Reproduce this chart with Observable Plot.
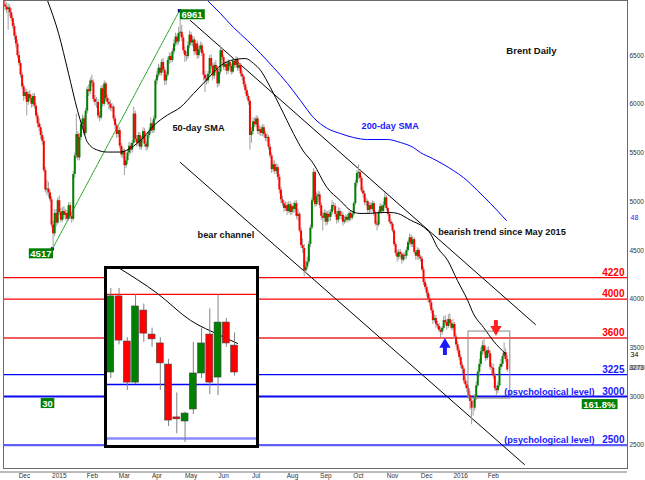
<!DOCTYPE html>
<html><head><meta charset="utf-8">
<script src="https://cdn.jsdelivr.net/npm/d3@7"></script>
<script src="https://cdn.jsdelivr.net/npm/@observablehq/plot@0.6"></script>
<style>
body{margin:0;background:#fff;}
#wrap{position:relative;width:645px;height:480px;overflow:hidden;}
#inset{position:absolute;left:104px;top:266px;width:149px;height:176px;border:3px solid #000;background:#fff;}
#inset svg,#wrap svg{display:block;}
</style></head><body><div id="wrap"></div>
<script>
// ---------------- data (prices x100, one bar per trading day) ----------------
const opens = [
7060,7020,7000,6970,6990,6940,6880,6800,6700,6620,
6500,6420,6300,6180,6080,6120,6020,6100,6060,6000,
6080,5980,5880,5800,5760,5680,5620,5320,5120,5130,
5090,5020,4760,4670,4880,4780,5010,4890,4810,4900,
4860,4880,4820,4960,4850,4820,5280,5470,5690,5450,
5660,5790,5850,5700,5930,6150,6130,6240,6220,6050,
6020,6020,5880,5860,6160,6000,6210,6060,6020,6000,
5960,5970,5850,5780,5690,5730,5570,5480,5520,5370,
5420,5500,5570,5530,5600,5900,5640,5600,5680,5560,
5640,5720,5590,5560,5680,5720,5800,5730,5850,6240,
6300,6370,6320,6430,6350,6240,6300,6450,6490,6450,
6540,6620,6690,6640,6730,6740,6680,6550,6500,6490,
6600,6710,6630,6660,6540,6620,6500,6560,6600,6520,
6300,6260,6240,6310,6470,6390,6290,6400,6360,6210,
6330,6550,6480,6380,6410,6340,6430,6390,6330,6440,
6400,6460,6370,6400,6310,6280,6200,6140,6080,6030,
5680,5720,5820,5790,5850,5720,5740,5700,5760,5690,
5650,5660,5560,5470,5330,5380,5310,5350,5250,5120,
5020,4980,4930,4960,4900,4970,4890,4950,4920,4980,
4850,4870,4700,4550,4520,4290,4330,4380,4560,4730,
5010,5300,4970,5050,5070,4960,4850,4830,4880,4790,
4870,4840,4890,4960,4950,4870,4810,4900,4850,4860,
4790,4810,4840,4810,4880,4830,4870,4980,5190,5290,
5300,5240,5110,5080,4990,5000,4910,4960,4920,4980,
4880,4770,4760,4890,4950,4900,4960,5040,4930,4870,
4790,4770,4700,4560,4470,4430,4480,4460,4400,4450,
4440,4500,4580,4630,4560,4610,4480,4440,4500,4430,
4410,4300,4170,4120,4060,4000,3960,3880,3780,3800,
3740,3720,3680,3660,3700,3780,3760,3720,3790,3750,
3700,3740,3610,3530,3470,3400,3320,3280,3160,3120,
3080,3010,2950,2880,2880,2990,3110,3250,3330,3460,
3520,3460,3390,3470,3440,3300,3290,3210,3080,3060,
3110,3300,3330,3410,3450,3380
];
const highs = [
7090,7060,7040,7030,7020,6980,6910,6830,6740,6660,
6540,6450,6330,6210,6160,6150,6130,6140,6090,6110,
6110,6010,5910,5850,5790,5720,5660,5350,5220,5200,
5120,5050,4800,4920,4920,5040,5060,4930,4940,4950,
4920,4910,4990,4990,4880,5310,5500,5900,5720,5700,
5830,5890,5880,5960,6180,6200,6270,6300,6250,6090,
6070,6050,5920,6190,6190,6240,6230,6090,6060,6040,
6010,5990,5880,5800,5770,5760,5600,5560,5540,5460,
5530,5610,5600,5630,5970,5930,5680,5710,5710,5670,
5760,5750,5620,5710,5760,5860,5830,5880,6260,6340,
6410,6400,6460,6470,6380,6330,6480,6530,6520,6570,
6660,6730,6720,6790,6961,6810,6710,6590,6540,6640,
6750,6740,6700,6690,6660,6650,6590,6640,6630,6550,
6340,6300,6340,6500,6510,6420,6430,6450,6390,6370,
6600,6580,6500,6440,6430,6460,6450,6410,6470,6460,
6490,6480,6420,6420,6340,6300,6230,6170,6110,6050,
5760,5860,5860,5880,5880,5780,5770,5790,5790,5720,
5700,5680,5590,5500,5420,5420,5390,5380,5280,5150,
5060,5010,5000,4990,5000,5000,4980,4990,5010,5010,
4920,4890,4730,4620,4560,4390,4430,4590,4760,5040,
5340,5320,5090,5110,5100,4990,4890,4920,4910,4900,
4910,4920,5010,4990,4980,4900,4940,4930,4900,4890,
4850,4870,4870,4900,4910,4890,5000,5220,5320,5380,
5330,5260,5150,5110,5040,5020,4990,4990,5010,5000,
4900,4800,4910,4980,4970,5000,5090,5060,4950,4890,
4820,4790,4720,4580,4500,4510,4510,4480,4470,4480,
4530,4600,4670,4660,4640,4630,4500,4530,4520,4450,
4440,4330,4200,4150,4090,4040,3990,3910,3840,3830,
3770,3750,3710,3720,3820,3830,3790,3840,3850,3780,
3790,3760,3640,3560,3500,3430,3350,3300,3200,3150,
3110,3050,2980,2960,3020,3150,3270,3380,3500,3570,
3600,3520,3500,3510,3470,3340,3330,3240,3110,3150,
3330,3380,3440,3550,3490,3420
];
const lows = [
6990,6960,6930,6760,6900,6850,6770,6660,6580,6470,
6390,6270,6150,6030,6050,5880,5990,6030,5960,5970,
5950,5850,5760,5720,5640,5580,5300,5090,5060,5040,
4990,4730,4517,4640,4740,4760,4860,4780,4790,4820,
4810,4790,4800,4820,4780,4800,5240,5440,5420,5420,
5630,5760,5680,5680,5900,6080,6100,6180,6020,5980,
5960,5850,5820,5840,5970,5980,6030,5990,5940,5930,
5920,5820,5740,5650,5660,5540,5450,5440,5270,5340,
5380,5470,5490,5500,5580,5610,5560,5570,5530,5530,
5600,5560,5520,5530,5650,5690,5700,5700,5830,6200,
6270,6290,6290,6320,6190,6200,6280,6410,6420,6430,
6510,6590,6600,6610,6690,6640,6520,6430,6440,6460,
6570,6600,6590,6500,6510,6460,6470,6530,6490,6240,
6120,6200,6210,6280,6360,6240,6260,6320,6170,6180,
6300,6450,6350,6340,6300,6310,6360,6300,6310,6370,
6370,6340,6340,6280,6240,6170,6100,6050,5990,5530,
5600,5690,5760,5760,5690,5680,5670,5670,5660,5620,
5610,5530,5440,5290,5300,5280,5280,5220,5080,4980,
4950,4890,4900,4860,4880,4860,4860,4880,4890,4820,
4800,4680,4520,4470,4230,4260,4300,4360,4530,4710,
4990,4940,4950,4990,4930,4810,4700,4790,4750,4760,
4790,4800,4860,4910,4840,4770,4780,4820,4810,4750,
4770,4780,4790,4790,4800,4810,4850,4960,5150,5230,
5200,5090,5040,4960,4950,4880,4880,4880,4900,4850,
4750,4700,4740,4870,4870,4880,4940,4910,4850,4770,
4740,4680,4540,4440,4380,4400,4420,4360,4380,4400,
4410,4480,4550,4530,4530,4460,4400,4400,4400,4380,
4280,4140,4090,4020,3960,3920,3850,3740,3760,3700,
3690,3660,3600,3630,3680,3730,3680,3700,3720,3680,
3670,3590,3500,3440,3370,3290,3230,3130,3080,3040,
2980,2860,2710,2800,2850,2960,3090,3200,3300,3420,
3430,3360,3370,3400,3270,3230,3180,3050,3010,3030,
3090,3270,3300,3380,3350,3250
];
const closes = [
7020,7000,6970,6990,6940,6880,6800,6700,6620,6500,
6420,6300,6180,6080,6120,6020,6100,6060,6000,6080,
5980,5880,5800,5760,5680,5620,5320,5120,5130,5090,
5020,4760,4670,4880,4780,5010,4890,4810,4900,4860,
4880,4820,4960,4850,4820,5280,5470,5690,5450,5660,
5790,5850,5700,5930,6150,6130,6240,6220,6050,6020,
6020,5880,5860,6160,6000,6210,6060,6020,6000,5960,
5970,5850,5780,5690,5730,5570,5480,5520,5370,5420,
5500,5570,5530,5600,5900,5640,5600,5680,5560,5640,
5720,5590,5560,5680,5720,5800,5730,5850,6240,6300,
6370,6320,6430,6350,6240,6300,6450,6490,6450,6540,
6620,6690,6640,6730,6740,6680,6550,6500,6490,6600,
6710,6630,6660,6540,6620,6500,6560,6600,6520,6300,
6260,6240,6310,6470,6390,6290,6400,6360,6210,6330,
6550,6480,6380,6410,6340,6430,6390,6330,6440,6400,
6460,6370,6400,6310,6280,6200,6140,6080,6030,5680,
5720,5820,5790,5850,5720,5740,5700,5760,5690,5650,
5660,5560,5470,5330,5380,5310,5350,5250,5120,5020,
4980,4930,4960,4900,4970,4890,4950,4920,4980,4850,
4870,4700,4550,4520,4290,4330,4380,4560,4730,5010,
5300,4970,5050,5070,4960,4850,4830,4880,4790,4870,
4840,4890,4960,4950,4870,4810,4900,4850,4860,4790,
4810,4840,4810,4880,4830,4870,4980,5190,5290,5300,
5240,5110,5080,4990,5000,4910,4960,4920,4980,4880,
4770,4760,4890,4950,4900,4960,5040,4930,4870,4790,
4770,4700,4560,4470,4430,4480,4460,4400,4450,4440,
4500,4580,4630,4560,4610,4480,4440,4500,4430,4410,
4300,4170,4120,4060,4000,3960,3880,3780,3800,3740,
3720,3680,3660,3700,3780,3760,3720,3790,3750,3700,
3740,3610,3530,3470,3400,3320,3280,3160,3120,3080,
3010,2950,2880,2880,2990,3110,3250,3330,3460,3520,
3460,3390,3470,3440,3300,3290,3210,3080,3060,3110,
3300,3330,3410,3450,3380,3273
];

// moving averages (bar index, price)
const sma50Bar = [28.4,35.5,41.9,47.7,51,54.2,60.6,67.1,75.5,81.9,90.3,96.8,105.8,114.2,122.6,131.6,138.7,146.5,156.1,161.3,165.8,172.3,178.7,187.1,193,200,208.5,217.4,223.9,230,236.8,243.2,249,254.2,262.6,271,275.5,280,286.5,292.9,299.4,303.2,309.7,316.1,323.9];
const sma50Val = [7065,6730,6320,5940,5760,5610,5530,5510,5510,5550,5660,5780,5890,5970,6110,6260,6380,6450,6470,6420,6350,6170,5970,5700,5530,5390,5150,5010,4910,4880,4880,4890,4890,4880,4810,4740,4670,4530,4400,4190,3990,3850,3710,3570,3440];
const sma200Bar = [131.6,140,148.4,157.4,165.8,174.2,183.2,191.6,200,209,217.4,225.8,234.8,247.7,256.1,264.5,269,276.8,290.3,296.8,305.8,314.2,324.5];
const sma200Val = [7066,6932,6789,6656,6522,6378,6214,6039,5864,5752,5700,5659,5639,5639,5608,5556,5505,5444,5320,5248,5115,4982,4807];

// trend lines (bar index, price)
const channelBar = [114.2, 336.1], channelVal = [5402, 2302];
const trendBar = [120.6, 343.2], trendVal = [6860, 3739];
const swingBar = [31.6, 113.5], swingVal = [4517, 6961];

// horizontal levels
const levelValues = [4220, 4000, 3600, 3225, 3000, 2500];
const psychLevels = [3000, 2500];

// axes
const yTicks = [2500, 3000, 3500, 4000, 4500, 5000, 5500, 6000, 6500];
const monthLabels = ["Dec","2015","Feb","Mar","Apr","May","Jun","Jul","Aug","Sep","Oct","Nov","Dec","2016","Feb"];
const monthBar = [13.5,36,57.4,78,99,121,142,163,186.5,208,229,251,273,295,316];

// inset (zoom of the last weeks)
const insetOpen  = [3275,3592,3404,3233,3533,3433,3396,3308,3088,3071,3121,3271,3433,3254,3483,3387];
const insetHigh  = [3625,3625,3420,3600,3560,3460,3420,3330,3190,3110,3400,3460,3540,3600,3500,3440];
const insetLow   = [3250,3390,3200,3225,3400,3380,3200,3050,3020,2983,3100,3250,3183,3179,3380,3260];
const insetClose = [3592,3408,3233,3550,3437,3413,3313,3075,3083,3104,3271,3396,3233,3483,3396,3275];
const insetSmaBar = [0.9,5.66,9.66,13.3,15.36];
const insetSmaVal = [3712,3604,3492,3429,3396];
const insetLevels = [3600, 3225, 3000];

// ---------------- styles ----------------
const FONT = "'Liberation Sans', Arial, sans-serif";
const GREEN = "#008000", RED = "#ff0000";
const levelStroke = {4220:"#ff0000",4000:"#ff0000",3600:"#f25c5c",3225:"#0000ff",3000:"#0a0aee",2500:"#5f5fff"};
const levelWidth  = {4220:1.3,4000:1.3,3600:2,3225:1.3,3000:2,2500:2.2};
const levelLabelColor = {4220:"#ff0000",4000:"#ff0000",3600:"#ff0000",3225:"#1a1aff",3000:"#1a1aff",2500:"#1a1aff"};

const bars = closes.map((c, i) => ({i, o: opens[i], h: highs[i], l: lows[i], c}));
const insetBars = insetClose.map((c, k) => ({k, o: insetOpen[k], h: insetHigh[k], l: insetLow[k], c}));

const chart = Plot.plot({
  width: 645, height: 480,
  marginTop: 0, marginBottom: 12, marginLeft: 3, marginRight: 18,
  style: {fontFamily: FONT, background: "white", overflow: "visible"},
  x: {type: "linear", domain: [0, 402.6], axis: null},
  y: {domain: [2261, 7066], axis: null},
  marks: [
    Plot.ruleY(levelValues, {y: d => d, stroke: d => levelStroke[d], strokeWidth: d => levelWidth[d]}),
    Plot.line(d3.zip(sma200Bar, sma200Val), {stroke: "#0000ff", strokeWidth: 1, curve: "monotone-x", clip: true}),
    Plot.line(d3.zip(swingBar, swingVal), {stroke: "#22a022", strokeWidth: 1, strokeDasharray: "2,1"}),
    Plot.dot(d3.zip(swingBar, swingVal), {r: 1.8, symbol: "square", fill: "#000080", stroke: null}),
    Plot.line(d3.zip(channelBar, channelVal), {stroke: "#000", strokeWidth: 1}),
    Plot.line(d3.zip(trendBar, trendVal), {stroke: "#000", strokeWidth: 1}),
    Plot.ruleX(bars, {x: "i", y1: "l", y2: "h", stroke: "#a0a0a0", strokeWidth: 1, clip: true}),
    Plot.ruleX(bars, {x: "i", y1: "o", y2: "c", stroke: d => d.c >= d.o ? GREEN : RED, strokeWidth: 2, clip: true}),
    Plot.line(d3.zip(sma50Bar, sma50Val), {stroke: "#000", strokeWidth: 1, curve: "monotone-x", clip: true}),
    Plot.frame({stroke: "#6a6a6a"}),
    // grey box around recent range
    Plot.rect([0], {x1: () => 300, x2: () => 327, y1: () => 2979, y2: () => 3667, fill: "none", stroke: "#888", strokeWidth: 1}),
    // level labels
    Plot.text(levelValues, {y: d => d, text: d => String(d), frameAnchor: "right", dx: -3, dy: -2, textAnchor: "end", lineAnchor: "bottom",
      fill: d => levelLabelColor[d], fontWeight: "bold", fontSize: 10}),
    Plot.text(psychLevels, {y: d => d, text: () => "(psychological level)", frameAnchor: "right", dx: -33, dy: -2, textAnchor: "end", lineAnchor: "bottom",
      fill: "#1a1aff", fontWeight: "bold", fontSize: 9.2}),
    // annotations
    Plot.text([["Brent Daily", 340.6, 6552]], {x: d => d[1], y: d => d[2], text: d => d[0], fontWeight: "bold", fontSize: 9.5, fill: "#111"}),
    Plot.text([["50-day SMA", 125.8, 5752], ["bear channel", 143.5, 4653], ["bearish trend since May 2015", 321.6, 4684]],
      {x: d => d[1], y: d => d[2], text: d => d[0], fontWeight: "bold", fontSize: 9.2, fill: "#111"}),
    Plot.text([["200-day SMA", 249.5, 5772]], {x: d => d[1], y: d => d[2], text: d => d[0], fontWeight: "bold", fontSize: 9.2, fill: "#1a1aff"}),
    // arrows
    Plot.ruleX([[317.7, 3780, 3705]], {x: d => d[0], y1: d => d[1], y2: d => d[2], stroke: "#ff2020", strokeWidth: 4}),
    Plot.dot([[317.7, 3690]], {x: d => d[0], y: d => d[1], symbol: "triangle", r: 4.2, rotate: 180, fill: "#ff2020", stroke: null}),
    Plot.ruleX([[284.8, 3520, 3421]], {x: d => d[0], y1: d => d[1], y2: d => d[2], stroke: "#1a1aff", strokeWidth: 4}),
    Plot.dot([[284.8, 3535]], {x: d => d[0], y: d => d[1], symbol: "triangle", r: 4.2, fill: "#1a1aff", stroke: null}),
    // green tags
    Plot.text([[6961]], {x: () => swingBar[1], y: d => d[0], text: d => String(d[0]), dx: 2, dy: 4, textAnchor: "start",
      fill: "white", fontWeight: "bold", fontSize: 9.5, className: "tag"}),
    Plot.text([[4517]], {x: () => swingBar[0], y: d => d[0], text: d => String(d[0]), dx: -1, dy: 5, textAnchor: "end",
      fill: "white", fontWeight: "bold", fontSize: 9.5, className: "tag"}),
    Plot.text([[3000]], {x: () => 28.4, y: d => d[0], text: () => "30", dy: 7,
      fill: "white", fontWeight: "bold", fontSize: 9.5, className: "tag"}),
    Plot.text([[3000]], {y: d => d[0], text: () => "161.8%", frameAnchor: "right", dx: -12, dy: 8, textAnchor: "end",
      fill: "white", fontWeight: "bold", fontSize: 9.5, className: "tag"}),
    // right axis
    Plot.text(yTicks, {y: d => d, text: d => String(d), frameAnchor: "right", dx: 2, textAnchor: "start", fontSize: 6.5, fill: "#333"}),
    Plot.text([sma50Val[sma50Val.length - 1]], {y: d => d, text: d => String(Math.floor(d / 100)), frameAnchor: "right", dx: 3, dy: 1, textAnchor: "start", fontSize: 7, fill: "#000"}),
    Plot.text([sma200Val[sma200Val.length - 1]], {y: d => d, text: d => String(Math.floor(d / 100)), frameAnchor: "right", dx: 3, dy: -3, textAnchor: "start", fontSize: 7, fill: "#1a1aff"}),
    Plot.text([closes[closes.length - 1]], {y: d => d, text: d => String(d), frameAnchor: "right", dx: 2, dy: -2, textAnchor: "start", fontSize: 6.5, fill: "#222", className: "price"}),
    // months
    Plot.text(monthBar, {x: d => d, text: (d, i) => monthLabels[i], frameAnchor: "bottom", dy: 9, fontSize: 6.5, fill: "#333"})
  ]
});

const wrap = document.getElementById("wrap");
wrap.appendChild(chart);

function boxify(cls, fill, padX, padY) {
  d3.select(chart).selectAll(`g.${cls} text`).each(function () {
    const b = this.getBBox();
    const r = document.createElementNS("http://www.w3.org/2000/svg", "rect");
    r.setAttribute("x", b.x - padX); r.setAttribute("y", b.y - padY);
    r.setAttribute("width", b.width + 2 * padX); r.setAttribute("height", b.height + 2 * padY);
    r.setAttribute("fill", fill);
    const t = this.getAttribute("transform"); if (t) r.setAttribute("transform", t);
    this.parentNode.insertBefore(r, this);
  });
}
boxify("tag", GREEN, 1.5, -0.5);
boxify("price", "#c8c8c8", 0.5, -1);

// second bottom border line
d3.select(chart).append("line").attr("x1", 0).attr("x2", 627).attr("y1", 472).attr("y2", 472).attr("stroke", "#777");

// ---------------- inset ----------------
const inset = Plot.plot({
  width: 149, height: 176, margin: 0,
  style: {fontFamily: FONT, background: "white"},
  x: {type: "linear", domain: [-0.4, 17.66], axis: null},
  y: {domain: [2971, 3704], axis: null},
  marks: [
    Plot.ruleY(insetLevels, {y: d => d, stroke: d => d === 3600 ? "#ff0000" : d === 3225 ? "#0000ff" : "#8a8aff", strokeWidth: d => d === 3000 ? 2.5 : 1.3}),
    Plot.line(d3.zip(insetSmaBar, insetSmaVal), {stroke: "#000", strokeWidth: 1, curve: "monotone-x", clip: true}),
    Plot.ruleX(insetBars, {x: "k", y1: "l", y2: "h", stroke: "#808080", strokeWidth: 1}),
    Plot.rect(insetBars, {x1: d => d.k - 0.42, x2: d => d.k + 0.42, y1: "o", y2: d => Math.abs(d.c - d.o) < 8 ? d.o - 8 : d.c,
      fill: d => d.c >= d.o ? GREEN : RED, stroke: "#444", strokeWidth: 0.6})
  ]
});
const insetDiv = document.createElement("div");
insetDiv.id = "inset";
insetDiv.appendChild(inset);
wrap.appendChild(insetDiv);
</script></body></html>
